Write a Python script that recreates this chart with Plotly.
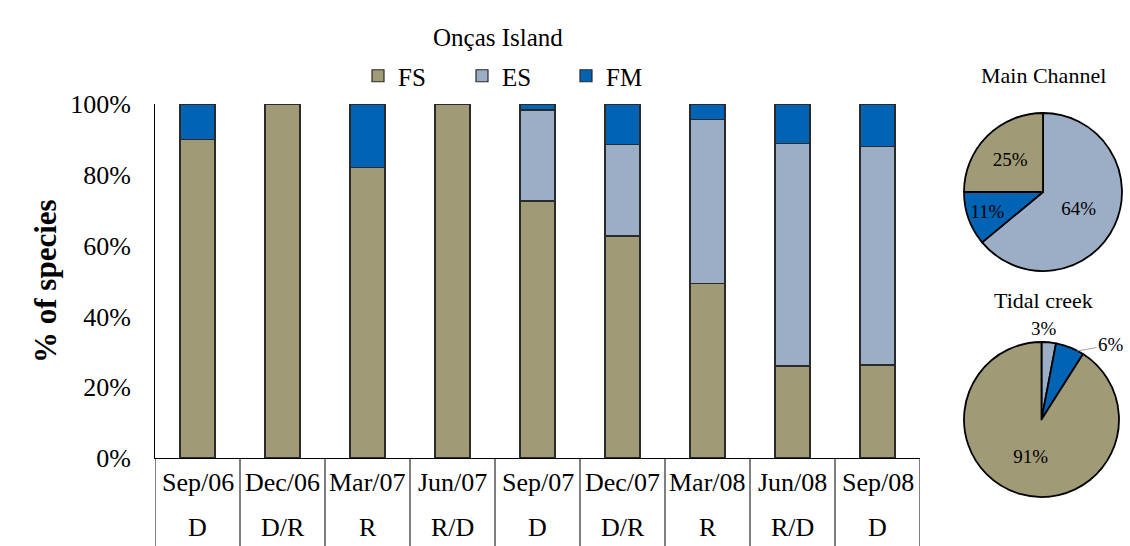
import plotly.graph_objects as go

# ---------------- data ----------------
categories = ["Sep/06", "Dec/06", "Mar/07", "Jun/07", "Sep/07", "Dec/07", "Mar/08", "Jun/08", "Sep/08"]
seasons = ["D", "D/R", "R", "R/D", "D", "D/R", "R", "R/D", "D"]
fs_values = [90, 100, 82, 100, 72.6, 62.7, 49.2, 26.0, 26.3]
es_values = [0, 0, 0, 0, 25.7, 25.8, 46.4, 62.9, 61.8]
fm_values = [10, 0, 18, 0, 1.7, 11.5, 4.4, 11.1, 11.9]
y_ticks = [0, 20, 40, 60, 80, 100]
y_ticktext = [f"{v}%" for v in y_ticks]

pie_labels = ["ES", "FM", "FS"]
main_channel = [64, 11, 25]
tidal_creek = [3, 6, 91]

FONT = "Liberation Serif"
C_FS = "#a09a76"
C_ES = "#9cadc6"
C_FM = "#0063b3"
colors = {"FS": C_FS, "ES": C_ES, "FM": C_FM}

W, H = 1130, 546
# plot area in pixels
px_l, px_r, px_t, px_b = 155, 920, 104, 458
xd = [px_l / W, px_r / W]
yd = [(H - px_b) / H, (H - px_t) / H]

def py(pix):
    return (H - pix) / H

def pxx(pix):
    return pix / W

fig = go.Figure()
xs = list(range(len(categories)))
for name, vals in [("FS", fs_values), ("ES", es_values), ("FM", fm_values)]:
    fig.add_trace(go.Bar(
        x=xs, y=vals, name=name, width=0.41,
        marker=dict(color=colors[name], line=dict(color="#2a2a2a", width=1.2)),
    ))

# pies
fig.add_trace(go.Pie(
    labels=pie_labels, values=main_channel, sort=False, direction="clockwise", rotation=0,
    marker=dict(colors=[C_ES, C_FM, C_FS], line=dict(color="#000000", width=1.8)),
    texttemplate="%{value}%", textposition="inside",
    insidetextorientation="horizontal",
    textfont=dict(family=FONT, size=19, color="#000000"),
    showlegend=False, domain=dict(x=[pxx(963), pxx(1123)], y=[py(271), py(113)]),
))
fig.add_trace(go.Pie(
    labels=pie_labels, values=tidal_creek, sort=False, direction="clockwise", rotation=0,
    marker=dict(colors=[C_ES, C_FM, C_FS], line=dict(color="#000000", width=1.8)),
    texttemplate="%{value}%", textposition=["none", "none", "inside"],
    insidetextorientation="horizontal",
    textfont=dict(family=FONT, size=19, color="#000000"),
    showlegend=False, domain=dict(x=[pxx(962), pxx(1121)], y=[py(497), py(342)]),
))

def ann(text, x, y, xref="paper", size=25, **kw):
    d = dict(text=text, x=x, y=y, xref=xref, yref="paper", showarrow=False,
             xanchor="center", yanchor="middle", font=dict(family=FONT, size=size, color="#000"))
    d.update(kw)
    return d

annotations = []
annotations.append(ann("Onças Island", pxx(498), py(38), size=25))
annotations.append(ann("<b>% of species</b>", pxx(45), py(281), size=31, textangle=-90))
for i, (c, s) in enumerate(zip(categories, seasons)):
    annotations.append(ann(c, i, py(482), xref="x", size=26))
    annotations.append(ann(s, i, py(527), xref="x", size=26))
annotations.append(ann("Main Channel", pxx(1043), py(76), size=22))
annotations.append(ann("Tidal creek", pxx(1043), py(300), size=22))
annotations.append(ann(f"{tidal_creek[0]}%", pxx(1044), py(328), size=19))
annotations.append(ann(f"{tidal_creek[1]}%", pxx(1077), py(351), size=19, showarrow=True,
                       arrowhead=0, arrowwidth=1, arrowcolor="#a0a0a0", ax=34, ay=-6))

shapes = []
for i in range(len(categories) + 1):
    shapes.append(dict(type="line", xref="x", yref="paper", x0=i - 0.5, x1=i - 0.5,
                       y0=-0.05, y1=yd[0], line=dict(color="#000", width=1)))

fig.update_layout(
    width=W, height=H,
    margin=dict(l=0, r=0, t=0, b=0, autoexpand=False),
    paper_bgcolor="white", plot_bgcolor="white",
    barmode="stack",
    font=dict(family=FONT, size=24, color="#000"),
    xaxis=dict(domain=xd, range=[-0.5, len(categories) - 0.5], showticklabels=False,
               showline=True, linecolor="#000", linewidth=1, showgrid=False, zeroline=False,
               ticks="", fixedrange=True),
    yaxis=dict(domain=yd, range=[0, 100], tickvals=y_ticks, ticktext=y_ticktext,
               showline=True, linecolor="#000", linewidth=1, showgrid=False, zeroline=False,
               ticks="", ticklabelstandoff=18, tickfont=dict(family=FONT, size=26, color="#000")),
    legend=dict(orientation="h", x=pxx(358), y=py(76), xanchor="left", yanchor="middle",
                entrywidth=59, entrywidthmode="pixels", font=dict(family=FONT, size=25, color="#000"),
                bgcolor="rgba(0,0,0,0)", traceorder="normal"),
    annotations=annotations, shapes=shapes,
)

fig.write_html("out.html", config={"displayModeBar": False},
               post_script="document.body.style.margin='0';document.body.style.overflow='hidden';")
